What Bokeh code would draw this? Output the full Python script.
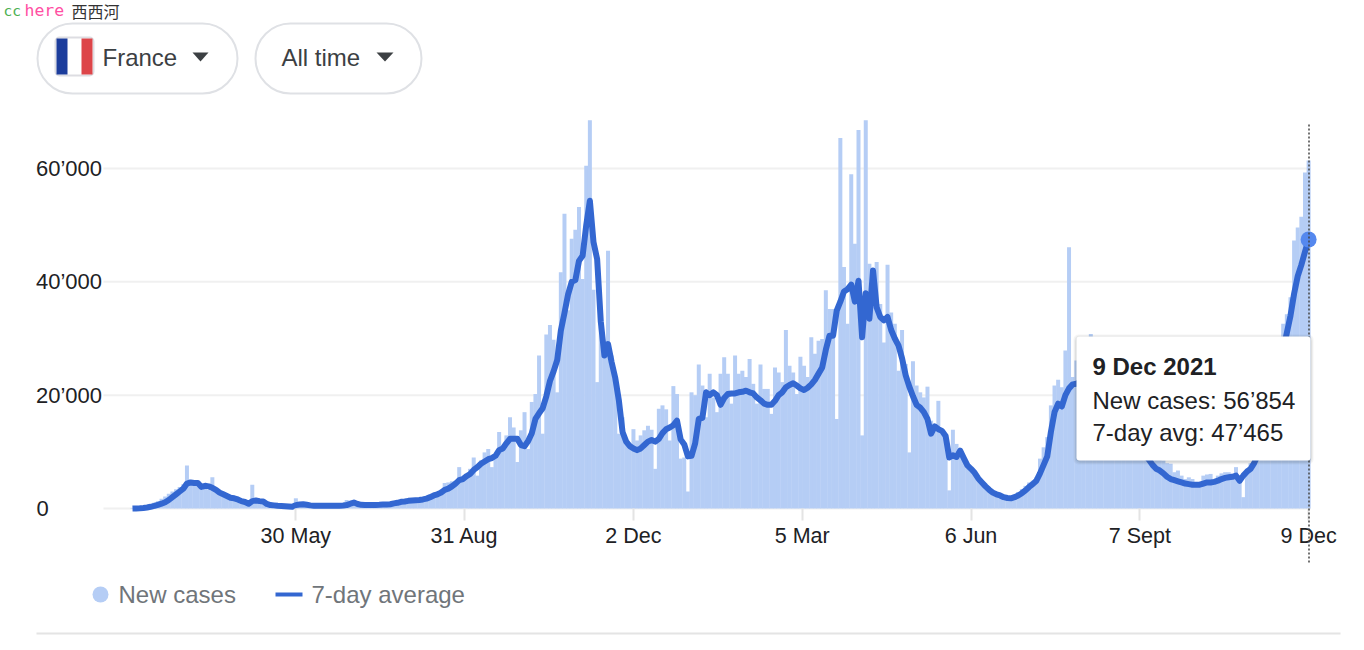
from datetime import date
from bokeh.plotting import figure
from bokeh.models import (Label, BoxAnnotation, PolyAnnotation, Arrow, FixedTicker)
from bokeh.embed import file_html
from bokeh.resources import INLINE

START = date(2020, 3, 1)
STEP_DAYS = 2

new_cases = [
 100,150,250,400,600,800,1000,1300,1700,2100,
 2600,3000,3400,3800,4300,7600,4500,5000,4000,3300,
 3600,3300,5500,3600,2800,2500,2400,2200,1900,1600,
 1500,1300,1100,4200,1000,1000,900,800,500,500,
 450,400,400,400,400,1800,500,600,600,500,
 450,450,450,450,500,500,500,500,700,1500,
 900,800,750,700,700,700,700,700,700,700,
 700,750,800,900,1000,1100,1200,1300,1400,1500,
 1600,1800,2000,2200,2500,3300,4500,4600,4800,4900,
 7300,5500,6100,7000,9000,5800,8500,9900,10500,7300,
 9000,13500,10200,12900,16100,14300,8200,13800,17000,10500,
 18800,20200,27000,13200,30700,32400,29800,20500,41700,52000,
 35000,47600,49200,53200,40500,60500,68500,38600,22300,32000,
 26700,45500,27000,22000,13200,16100,11400,10800,14000,12000,
 12900,13800,14600,13900,7000,17600,18200,17500,12000,21600,
 20200,8800,9000,3000,20500,20000,25400,21700,16100,23800,
 19600,17000,23800,26700,23800,18500,27000,23800,24300,23200,
 26400,22000,18500,25400,21100,21100,16700,24900,24000,22300,
 31500,25200,24000,20200,26800,25200,23200,30200,27300,29600,
 29900,38500,35200,35200,15800,65400,42600,32600,59000,46700,
 66800,12900,68500,43200,42300,43500,36100,29300,43000,34600,
 32600,24300,31500,25500,9900,26000,21700,20500,19600,21500,
 15500,13800,19000,13800,11400,3200,13900,11400,9000,9300,
 7600,7000,5800,4900,4400,3800,3200,2600,2300,2100,
 2000,1900,2100,2400,2900,3400,4000,4600,4900,5500,
 8800,10800,12600,18200,21700,22700,21400,27900,46100,23200,
 26100,25000,24000,23000,30800,22000,23000,21000,20000,18000,
 21000,17000,19000,18000,16000,15000,16000,14000,13000,13000,
 12000,11000,10000,9000,8500,8000,7900,6400,6700,5800,
 5200,5500,5200,4400,4000,5800,6000,6100,5200,5800,
 6200,6400,6400,6100,7300,5800,2000,7000,8000,9000,
 11000,12000,13000,15000,17000,20000,25000,32600,34300,37300,
 47300,49600,51500,59300,61400,
]

avg_7day = [
 0,20,50,100,180,300,450,650,850,1100,
 1500,2000,2500,3000,3500,4400,4600,4500,4500,3800,
 4000,3900,3650,3300,2800,2500,2200,1900,1800,1600,
 1300,1150,850,1300,1400,1300,1250,800,600,550,
 470,450,400,350,300,600,700,750,650,550,
 500,480,470,470,470,470,480,500,530,600,
 850,1050,800,650,600,600,600,620,650,700,
 700,750,900,1000,1180,1250,1350,1400,1450,1500,
 1600,1750,2000,2300,2500,2800,3300,3500,3900,4400,
 5000,5200,5700,6100,6800,7300,7900,8300,8700,8900,
 9300,10300,10600,11500,12300,12300,12300,11200,11000,11900,
 13300,15800,16800,17700,19800,22500,24200,26200,31400,34500,
 37800,40000,40300,43700,44600,50000,54300,47000,44000,33000,
 27000,29000,25800,23000,19000,13500,11800,11000,10600,10300,
 10600,11200,11800,12100,11800,12300,13300,14000,14300,14700,
 15500,12200,11300,9200,9300,11500,15800,16000,20500,20000,
 20500,20000,18300,19500,20200,20300,20300,20500,20600,20800,
 20500,20300,19600,19100,18500,18300,18300,19000,20000,20500,
 21400,21800,22100,21700,21200,20900,21300,21900,22700,23800,
 24900,28000,30500,30500,34900,36500,38300,38700,39500,36500,
 40200,30200,38000,33500,42000,35500,33800,33200,33800,31500,
 30000,28800,26500,23500,21500,19800,18300,17800,17000,15800,
 13200,14500,14000,13700,12800,9000,9400,9100,10200,8900,
 7600,7000,6300,5300,4600,3900,3300,2800,2500,2300,
 2000,1850,1800,2000,2300,2700,3200,3800,4300,4900,
 6200,7700,9200,13500,17000,18500,18000,20000,21200,21900,
 22000,22300,22200,22000,21500,21000,20500,20000,19000,18000,
 17000,16000,15200,14500,13700,13000,12000,11000,10300,9500,
 8600,7700,7000,6700,6200,5600,5200,5000,4800,4600,
 4400,4300,4200,4200,4200,4400,4600,4600,4700,4900,
 5200,5400,5500,5600,5800,4900,5800,6500,7000,8000,
 9500,11000,12500,15000,18000,21000,24500,28000,31000,34000,
 37900,41000,43000,45300,47465,
]

tick_dates = [date(2020,5,30), date(2020,8,31), date(2020,12,2), date(2021,3,5),
              date(2021,6,6), date(2021,9,7), date(2021,12,9)]
tick_labels = ["30 May", "31 Aug", "2 Dec", "5 Mar", "6 Jun", "7 Sept", "9 Dec"]
y_ticks = [0, 20000, 40000, 60000]
y_labels = ["0", "20\u2019000", "40\u2019000", "60\u2019000"]

FONT = "Liberation Sans"
days = [i * STEP_DAYS for i in range(len(new_cases))]
tick_days = [(d - START).days for d in tick_dates]

W, H = 1350, 645
PX_PER_DAY = 1.815
PER_PX = 176.47
X0, Y0 = 132, 508
x_at = lambda px: (px - X0) / PX_PER_DAY
y_at = lambda py: (Y0 - py) * PER_PX

p = figure(width=W, height=H, output_backend="svg", toolbar_location=None,
           x_range=(x_at(0), x_at(W)), y_range=(y_at(H), y_at(0)),
           min_border=0, min_border_left=0, min_border_right=0, min_border_top=0, min_border_bottom=0)
p.outline_line_color = None
p.background_fill_color = "white"
p.xgrid.visible = False
p.ygrid.visible = False

xa, ya = p.xaxis[0], p.yaxis[0]
xa.fixed_location = 0
ya.fixed_location = x_at(107.5)
xa.ticker = FixedTicker(ticks=tick_days)
xa.major_label_overrides = dict(zip(tick_days, tick_labels))
ya.ticker = FixedTicker(ticks=y_ticks)
# the zero label is left-aligned with the others' left edge, so it is placed on its own below
ya.major_label_overrides = dict(zip(y_ticks, [""] + y_labels[1:]))
for ax in (xa, ya):
    ax.axis_line_color = None
    ax.minor_tick_line_color = None
    ax.major_label_text_font = FONT
    ax.major_label_text_color = "#202124"
xa.major_label_text_font_size = "21.5px"
ya.major_label_text_font_size = "22px"
ya.major_tick_line_color = None
ya.major_label_standoff = 0
xa.major_tick_line_color = "#e4e4e4"
xa.major_tick_line_width = 2
xa.major_tick_in = 0
xa.major_tick_out = 12
xa.major_label_standoff = 3

p.segment(x0=[x_at(103)] * 4, x1=[x_at(1310)] * 4, y0=y_ticks, y1=y_ticks, line_color="#f0f0f0", line_width=2)
p.vbar(x=days, top=new_cases, width=2.2, bottom=0, fill_color="#b5cdf5", line_color=None)
p.line(days, avg_7day, line_color="#3367d1", line_width=6, line_join="round")
p.scatter(days[-1:], avg_7day[-1:], size=16, marker="circle", fill_color="#5588ee", line_color=None)


def box(l, r, t, b, fill=None, line=None, lw=1, radius=0, alpha=1.0):
    a = BoxAnnotation(left=l, right=r, top=t, bottom=b,
                      left_units="canvas", right_units="canvas", top_units="canvas", bottom_units="canvas",
                      fill_color=fill, fill_alpha=alpha if fill else 0,
                      line_color=line, line_alpha=1, line_width=lw, border_radius=radius, editable=False)
    p.add_layout(a)


def text(x, y, s, size=24, color="#3c4043", font=FONT, style="normal"):
    p.add_layout(Label(x=x, y=y, x_units="canvas", y_units="canvas", text=s, text_font=font,
                       text_font_size=f"{size}px", text_color=color, text_baseline="middle",
                       text_align="left", text_font_style=style))


def tri(l, r, t, b):
    p.add_layout(PolyAnnotation(xs=[l, r, (l + r) / 2], ys=[t, t, b], xs_units="canvas", ys_units="canvas",
                                fill_color="#3c4043", fill_alpha=1, line_color=None))

# zero tick label
text(36, 508, y_labels[0], 22, "#202124")

# watermark
text(3, 10, "cc", 14.5, "#4caf50", "DejaVu Sans Mono")
text(24, 10, "here", 16.5, "#ff4fa3", "DejaVu Sans Mono")
text(71, 10, "\u897f\u897f\u6cb3", 16, "#333333", "Noto Sans CJK SC")

# dropdowns
box(37, 237, 23, 93, "white", "#dfe1e5", 2, 35)
box(255, 421, 23, 93, "white", "#dfe1e5", 2, 35)
box(55, 93, 37, 75, "white", "#dddde2", 2, 4)
box(56, 67, 38, 74, "#1c3d9c")
box(81, 92, 38, 74, "#dd4549")
text(102, 57, "France")
text(281, 57, "All time")
tri(192, 208, 52, 61)
tri(376, 393, 52, 61)

# legend
box(92, 108, 586, 602, "#b5cdf5", None, 1, 8)
box(275, 302, 592, 596, "#3367d1")
text(118, 594, "New cases", 24, "#70757a")
text(311, 594, "7-day average", 24, "#70757a")
box(36, 1340, 632, 634, "#e4e4e4")

# crosshair
p.add_layout(Arrow(end=None, x_start=1308.5, x_end=1308.5, y_start=124, y_end=562,
                   start_units="canvas", end_units="canvas",
                   line_color="#444444", line_width=1.5, line_dash="2 2"))

# tooltip
for grow, al in ((3, 0.05), (2, 0.07), (1, 0.10)):
    box(1076 - grow, 1310 + grow, 336 - grow + 1, 460 + grow + 1, "#3c4043", None, 1, 5, al)
box(1076, 1310, 336, 460, "white", None, 1, 3)
text(1092, 366, "9 Dec 2021", 24, "#202124", style="bold")
text(1092, 400, "New cases: 56\u2019854", 24, "#202124")
text(1092, 432, "7-day avg: 47\u2019465", 24, "#202124")

open("out.html", "w").write(file_html(p, INLINE))
